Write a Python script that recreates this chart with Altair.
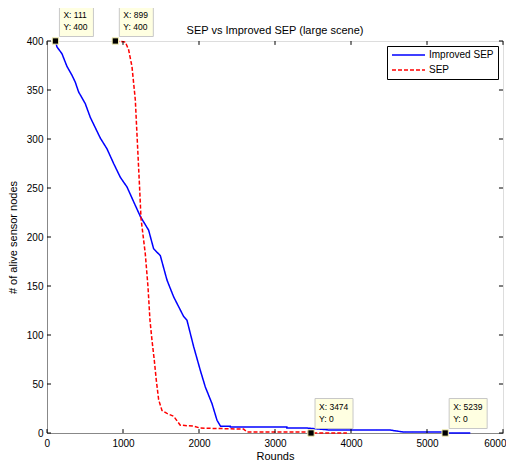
import altair as alt
import pandas as pd

# Improved SEP curve
blue_x = [111, 131, 197, 263, 329, 372, 416, 504, 570, 701, 789, 877, 964, 1053, 1140, 1228,
          1337, 1403, 1491, 1579, 1666, 1797, 1842, 1930, 2017, 2083, 2171, 2237, 2283, 2412,
          2412, 3156, 3156, 3421, 3728, 4517, 4600, 4693, 5230, 5239, 5570]
blue_y = [400, 394, 387, 374, 365, 358, 348, 336, 322, 301, 290, 275, 261, 251, 236, 221,
          207, 188, 181, 156, 139, 119, 115, 88, 64, 47, 30, 13, 7, 7,
          6, 6, 5, 5, 3, 3, 2, 1, 1, 0, 0]

# SEP curve
red_x = [899, 1031, 1074, 1118, 1162, 1175, 1218, 1237, 1293, 1329, 1355, 1381, 1412, 1438,
         1469, 1513, 1579, 1667, 1754, 1929, 2017, 2586, 2632, 3450, 3474, 3946]
red_y = [400, 399, 391, 374, 340, 319, 251, 219, 183, 149, 115, 95, 74, 54,
         34, 23, 20, 17, 8, 7, 5, 4, 1, 1, 0, 0]

series_names = ["Improved SEP", "SEP"]
series_colors = ["#0000ff", "#ff0000"]

tip_x = [111, 899, 3474, 5239]
tip_y = [400, 400, 0, 0]

x_ticks = [0, 1000, 2000, 3000, 4000, 5000, 6000]
y_ticks = [0, 50, 100, 150, 200, 250, 300, 350, 400]

title_text = "SEP vs Improved SEP (large scene)"

FONT = "Liberation Sans"

lines_df = pd.concat([
    pd.DataFrame({"Rounds": blue_x, "Alive": blue_y, "Series": series_names[0], "order": range(len(blue_x))}),
    pd.DataFrame({"Rounds": red_x, "Alive": red_y, "Series": series_names[1], "order": range(len(red_x))}),
])

tips_df = pd.DataFrame({
    "Rounds": tip_x,
    "Alive": tip_y,
    "label": [f"X: {a}\nY: {b}" for a, b in zip(tip_x, tip_y)],
    "wide": [len(str(a)) > 3 for a in tip_x],
})

xscale = alt.Scale(domain=[0, 6000], nice=False, zero=False)
yscale = alt.Scale(domain=[0, 400], nice=False)

xenc = alt.X("Rounds:Q", scale=xscale,
             axis=alt.Axis(values=x_ticks, title="Rounds", ticks=False, grid=False,
                           labelPadding=5, titlePadding=2, format="d",
                           labelFlush=True, labelFlushOffset=3,
                           titleFontWeight="normal"))
yenc = alt.Y("Alive:Q", scale=yscale,
             axis=alt.Axis(values=y_ticks, title="# of alive sensor nodes", ticks=False, grid=False,
                           labelPadding=4, titlePadding=8, labelFlush=False,
                           titleFontWeight="normal"))

lines = alt.Chart(lines_df).mark_line(strokeWidth=1.5, clip=False).encode(
    x=xenc,
    y=yenc,
    color=alt.Color("Series:N", scale=alt.Scale(domain=series_names, range=series_colors),
                    legend=alt.Legend(title=None, orient="top-right", offset=5,
                                      strokeColor="black", fillColor="white", padding=4,
                                      symbolSize=1089, symbolStrokeWidth=1.5, symbolType="stroke",
                                      clipHeight=10, rowPadding=5,
                                      labelFont=FONT, labelFontSize=10, labelColor="black",
                                      labelOffset=3, cornerRadius=0)),
    strokeDash=alt.StrokeDash("Series:N", scale=alt.Scale(domain=series_names, range=[[1, 0], [4, 2]]),
                              legend=alt.Legend(title=None, orient="top-right")),
    order="order:Q",
)

# inward ticks
xt_df = pd.DataFrame({"Rounds": x_ticks})
yt_df = pd.DataFrame({"Alive": y_ticks})
tick_bottom = alt.Chart(xt_df).mark_rule(color="black", strokeWidth=1).encode(
    x=alt.X("Rounds:Q", scale=xscale), y=alt.datum(0), y2=alt.datum(4))
tick_top = alt.Chart(xt_df).mark_rule(color="black", strokeWidth=1).encode(
    x=alt.X("Rounds:Q", scale=xscale), y=alt.datum(400), y2=alt.datum(396))
tick_left = alt.Chart(yt_df).mark_rule(color="black", strokeWidth=1).encode(
    y=alt.Y("Alive:Q", scale=yscale), x=alt.datum(0), x2=alt.datum(53))
tick_right = alt.Chart(yt_df).mark_rule(color="black", strokeWidth=1).encode(
    y=alt.Y("Alive:Q", scale=yscale), x=alt.datum(6000), x2=alt.datum(5947))

# title placed above the plot frame
title_df = pd.DataFrame({"Rounds": [3000], "Alive": [400], "t": [title_text]})
title = alt.Chart(title_df).mark_text(font=FONT, fontSize=11, color="black", baseline="alphabetic",
                                      align="center", dy=-7).encode(
    x=alt.X("Rounds:Q", scale=xscale), y=alt.Y("Alive:Q", scale=yscale), text="t:N")

markers = alt.Chart(tips_df).mark_square(size=40, fill="black", stroke="#f5f0b0",
                                          strokeWidth=1, opacity=1).encode(
    x=alt.X("Rounds:Q", scale=xscale), y=alt.Y("Alive:Q", scale=yscale))


def tip_layer(wide, w):
    base = alt.Chart(tips_df).transform_filter(alt.datum.wide == wide)
    box = base.mark_rect(width=w, height=30, xOffset=w / 2 + 4, yOffset=-19.5,
                         fill="#ffffe1", stroke="#c8c8c8", strokeWidth=1).encode(
        x=alt.X("Rounds:Q", scale=xscale), y=alt.Y("Alive:Q", scale=yscale))
    txt = base.mark_text(align="left", baseline="top", dx=8, dy=-30, lineBreak="\n",
                         lineHeight=11.5, font=FONT, fontSize=8.5, color="black").encode(
        x=alt.X("Rounds:Q", scale=xscale), y=alt.Y("Alive:Q", scale=yscale), text="label:N")
    return box + txt


chart = alt.layer(
    lines, tick_bottom, tick_top, tick_left, tick_right, title, markers,
    tip_layer(False, 34), tip_layer(True, 38),
).properties(
    width=456, height=392,
    autosize=alt.AutoSizeParams(type="none"),
    padding={"left": 39, "top": 33, "right": 3, "bottom": 30},
).configure_view(stroke="black", strokeWidth=1).configure_axis(
    domainColor="black", labelColor="black", titleColor="black",
    labelFont=FONT, titleFont=FONT, labelFontSize=10, titleFontSize=10,
    titleFontWeight="normal",
).configure(background="white")

chart.save("out.html", embed_options={"renderer": "svg", "actions": False})
